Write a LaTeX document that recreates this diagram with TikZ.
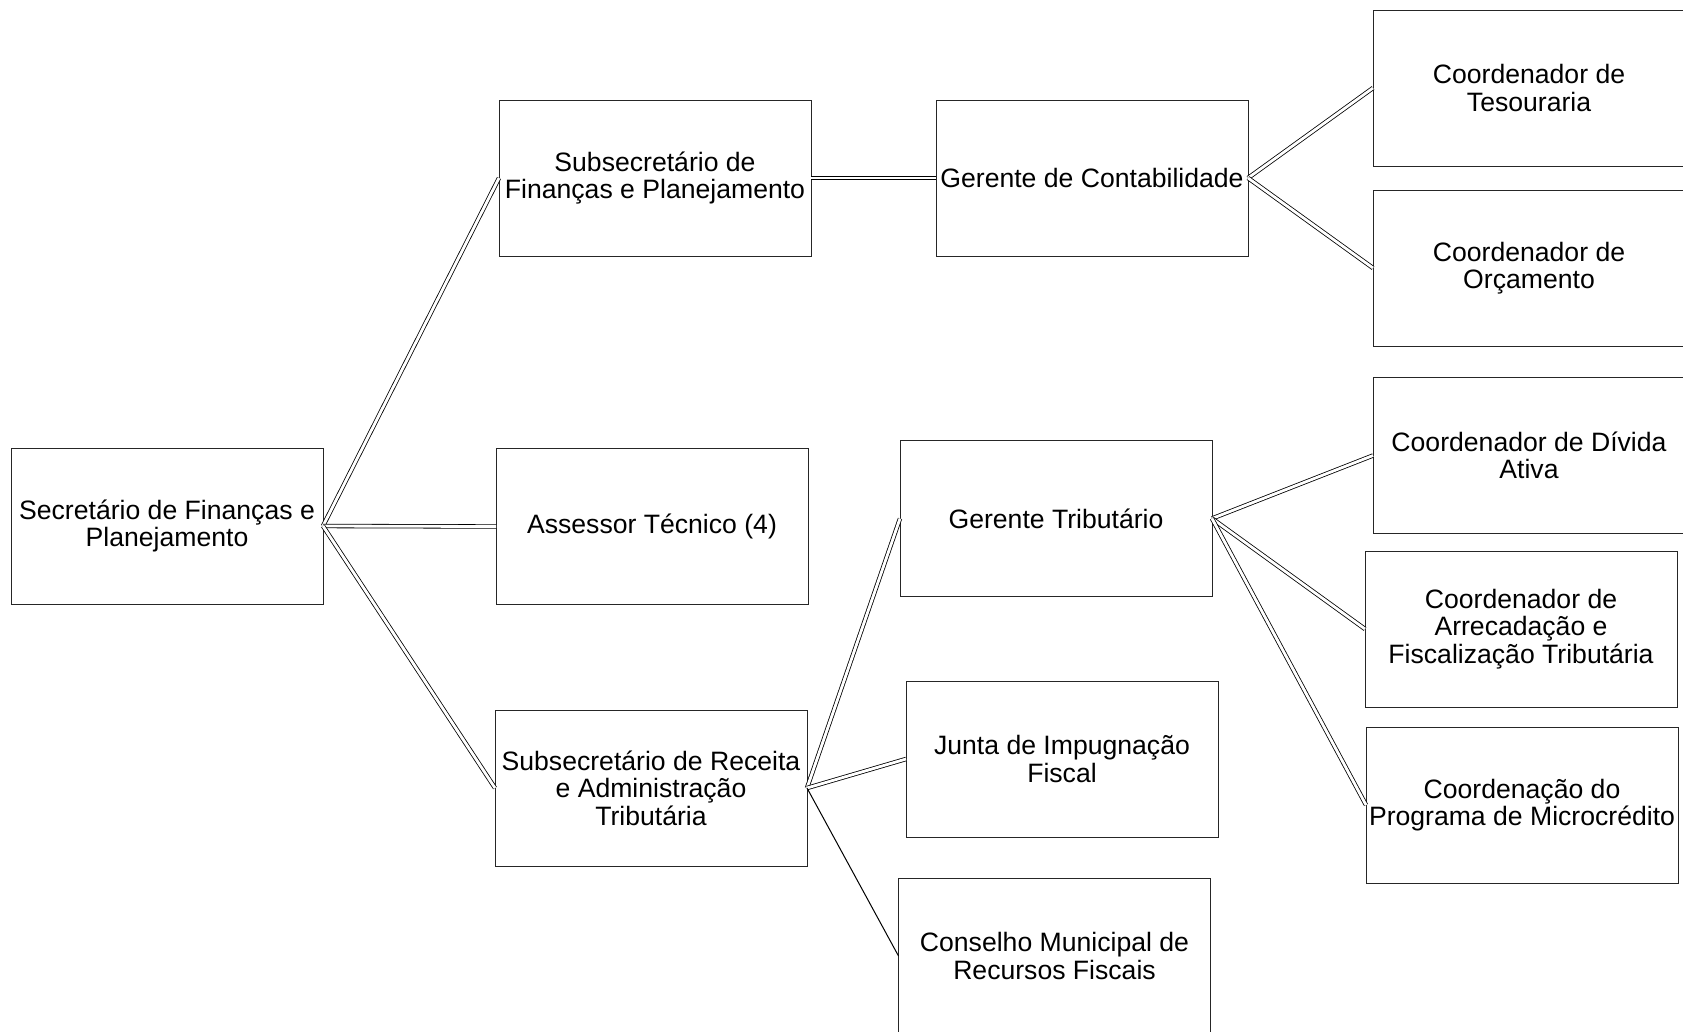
\documentclass[tikz,border=0pt]{standalone}
\usepackage{fontspec}
\setmainfont{Liberation Sans}
\begin{document}
\begin{tikzpicture}[x=1pt,y=-1pt,
  orgbox/.style={draw=black!85, line width=1pt, fill=white, rectangle,
    minimum width=312pt, minimum height=156pt, inner sep=0pt, outer sep=0pt,
    align=center, font=\fontsize{26.6}{27.5}\selectfont},
  dlink/.style={draw=black, line width=0.8pt, double=white, double distance=2.8pt},
  slink/.style={draw=black, line width=1pt}]
\useasboundingbox (0,0) rectangle (1683,1031);
\clip (0,0) rectangle (1683,1031);

% first level
\node[orgbox] (sec) at (167,526) {Secretário de Finanças e\\Planejamento};

% second level
\node[orgbox] (subfin) at (655,178) {Subsecretário de\\Finanças e Planejamento};
\node[orgbox] (asses) at (652,526.5) {Assessor Técnico (4)};
\node[orgbox] (subrec) at (651,788) {Subsecretário de Receita\\e Administração\\Tributária};

% third level
\node[orgbox] (gcont) at (1092,178) {Gerente de Contabilidade};
\node[orgbox] (gtrib) at (1056,518.5) {Gerente Tributário};
\node[orgbox] (junta) at (1062,759) {Junta de Impugnação\\Fiscal};
\node[orgbox] (cons) at (1054.5,956) {Conselho Municipal de\\Recursos Fiscais};

% fourth level
\node[orgbox] (tes) at (1529,88) {Coordenador de\\Tesouraria};
\node[orgbox] (orc) at (1529,268) {Coordenador de\\Orçamento};
\node[orgbox] (div) at (1529,455.5) {Coordenador de Dívida\\Ativa};
\node[orgbox] (arr) at (1521,629) {Coordenador de\\Arrecadação e\\Fiscalização Tributária};
\node[orgbox] (mic) at (1522,805) {Coordenação do\\Programa de Microcrédito};

% connectors
\draw[dlink] (sec.east) -- (subfin.west);
\draw[dlink] (sec.east) -- (asses.west);
\draw[dlink] (sec.east) -- (subrec.west);
\draw[dlink] (subfin.east) -- (gcont.west);
\draw[dlink] (gcont.east) -- (tes.west);
\draw[dlink] (gcont.east) -- (orc.west);
\draw[dlink] (subrec.east) -- (gtrib.west);
\draw[dlink] (subrec.east) -- (junta.west);
\draw[slink] (subrec.east) -- (cons.west);
\draw[dlink] (gtrib.east) -- (div.west);
\draw[dlink] (gtrib.east) -- (arr.west);
\draw[dlink] (gtrib.east) -- (mic.west);
\end{tikzpicture}
\end{document}
